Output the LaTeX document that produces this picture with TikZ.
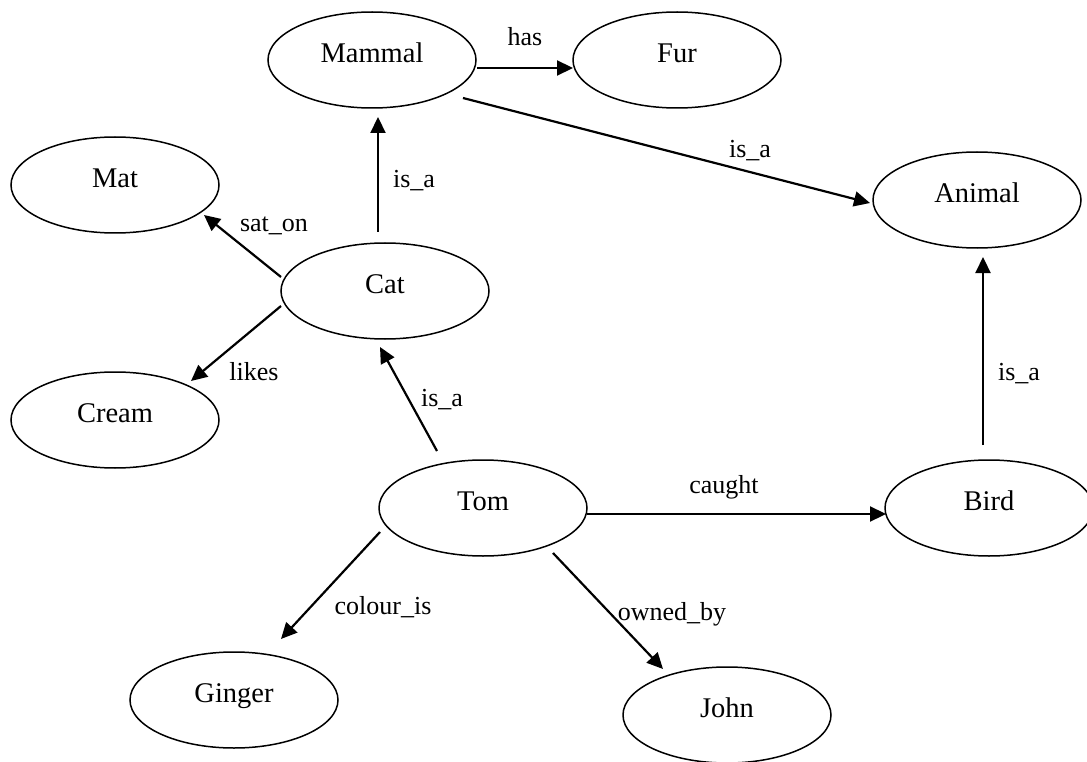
\documentclass[tikz,border=0pt]{standalone}
\usepackage{fontspec}
\setmainfont{Liberation Serif}
\usetikzlibrary{shapes.geometric,arrows.meta}
\tikzset{
  ell/.style={ellipse, draw, line width=1.5pt, minimum width=208pt, minimum height=96pt,
    inner sep=0pt, font=\fontsize{28.5}{30}\selectfont, text height=20pt, text depth=15pt},
  lbl/.style={font=\fontsize{26}{28}\selectfont, inner sep=0pt, anchor=base},
  arr/.style={line width=2.2pt, -{Triangle[length=16pt,width=15pt]}}
}
\begin{document}
\begin{tikzpicture}[x=1pt,y=-1pt]
\useasboundingbox (0,0) rectangle (1087,762);
\node[ell] (mammal) at (372,60) {Mammal};
\node[ell] (fur) at (677,60) {Fur};
\node[ell] (mat) at (115,185) {Mat};
\node[ell] (cat) at (385,291) {Cat};
\node[ell] (cream) at (115,420) {Cream};
\node[ell] (tom) at (483,508) {Tom};
\node[ell] (ginger) at (234,700) {Ginger};
\node[ell] (john) at (727,715) {John};
\node[ell] (animal) at (977,200) {Animal};
\node[ell] (bird) at (989,508) {Bird};

\draw[arr] ([shift={(105,8)}]mammal.center) -- ([shift={(-104,8)}]fur.center);
\draw[arr] ([shift={(91,38)}]mammal.center) -- ([shift={(-107,3)}]animal.center);
\draw[arr] ([shift={(-7,-59)}]cat.center) -- ([shift={(6,57)}]mammal.center);
\draw[arr] ([shift={(-104,-14)}]cat.center) -- ([shift={(89,30)}]mat.center);
\draw[arr] ([shift={(-104,15)}]cat.center) -- ([shift={(76,-39)}]cream.center);
\draw[arr] ([shift={(-46,-57)}]tom.center) -- ([shift={(-5,56)}]cat.center);
\draw[arr] ([shift={(104,6)}]tom.center) -- ([shift={(-103,6)}]bird.center);
\draw[arr] ([shift={(-103,24)}]tom.center) -- ([shift={(47,-61)}]ginger.center);
\draw[arr] ([shift={(70,45)}]tom.center) -- ([shift={(-64,-46)}]john.center);
\draw[arr] ([shift={(-6,-63)}]bird.center) -- ([shift={(6,57)}]animal.center);

\node[lbl] (l1) at (525,46) {has};
\node[lbl] (l2) at (750,158) {is\_a};
\node[lbl] (l3) at (414,188) {is\_a};
\node[lbl] (l4) at (274,232) {sat\_on};
\node[lbl] (l5) at (254,380) {likes};
\node[lbl] (l6) at (442,406) {is\_a};
\node[lbl] (l7) at (724,493) {caught};
\node[lbl] (l8) at (383,614) {colour\_is};
\node[lbl] (l9) at (672,620) {owned\_by};
\node[lbl] (l10) at (1019,380) {is\_a};
\end{tikzpicture}
\end{document}
